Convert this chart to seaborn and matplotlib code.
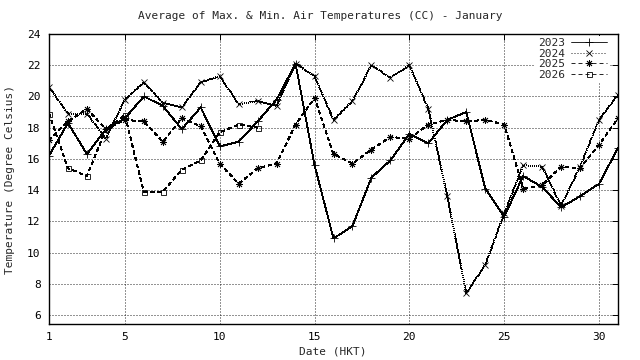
import pandas as pd
import seaborn as sns
import matplotlib.pyplot as plt

# Daily mean of max & min air temperature, January (deg C)
days = [1, 2, 3, 4, 5, 6, 7, 8, 9, 10, 11, 12, 13, 14, 15, 16,
        17, 18, 19, 20, 21, 22, 23, 24, 25, 26, 27, 28, 29, 30, 31]
t2023 = [16.2, 18.3, 16.3, 17.9, 18.6, 20.0, 19.4, 17.9, 19.3, 16.8, 17.1,
         18.4, 19.8, 22.1, 15.6, 10.9, 11.7, 14.8, 15.9, 17.6, 17.0, 18.5,
         19.0, 14.1, 12.3, 14.9, 14.2, 12.9, 13.6, 14.4, 16.7]
t2024 = [20.6, 18.9, 18.9, 17.3, 19.8, 20.9, 19.6, 19.3, 20.9, 21.3, 19.5,
         19.7, 19.4, 22.1, 21.3, 18.5, 19.7, 22.0, 21.2, 22.0, 19.2, 13.6,
         7.4, 9.2, 12.5, 15.6, 15.5, 13.0, 15.5, 18.5, 20.1]
t2025 = [17.2, 18.4, 19.2, 17.9, 18.5, 18.4, 17.1, 18.6, 18.1, 15.7, 14.4,
         15.4, 15.7, 18.2, 19.9, 16.3, 15.7, 16.6, 17.4, 17.3, 18.2, 18.5,
         18.4, 18.5, 18.2, 14.1, 14.3, 15.5, 15.4, 16.9, 18.6]
t2026 = [18.9, 15.4, 14.9, 17.9, 18.8, 13.9, 13.9, 15.3, 15.9, 17.7, 18.2, 18.0]

series = {'2023': t2023, '2024': t2024, '2025': t2025, '2026': t2026}
rows = []
for yr, vals in series.items():
    for d, v in zip(days, vals):
        rows.append({'year': yr, 'day': d, 'temp': v})
df = pd.DataFrame(rows)

xticks = [1, 5, 10, 15, 20, 25, 30]
yticks = [6, 8, 10, 12, 14, 16, 18, 20, 22, 24]

sns.set_style('white')
plt.rcParams['font.family'] = ['DejaVu Sans Mono']
plt.rcParams['font.size'] = 8
plt.rcParams['lines.scale_dashes'] = False

px = 0.72  # one pixel in points at dpi 100
styles = {
    '2023': dict(marker='+', ls='-', ms=5.5),
    '2024': dict(marker='x', ls=(0, (px, 2 * px)), ms=4),
    '2025': dict(marker=(8, 2, 0), ls=(0, (4 * px, 3 * px)), ms=5),
    '2026': dict(marker='s', ls=(0, (4 * px, 3 * px)), ms=3.6),
}

fig = plt.figure(figsize=(6.4, 3.6), dpi=100)
ax = fig.add_axes([49/640, 36/360, 569/640, 290/360])

for yr in series:
    st = styles[yr]
    sns.lineplot(data=df[df.year == yr], x='day', y='temp', ax=ax,
                 color='black', lw=0.6, linestyle=st['ls'],
                 marker=st['marker'], ms=st['ms'], mec='black', mfc='none',
                 mew=0.6, label=yr, antialiased=False)

ax.set_xlim(1, 31)
ax.set_ylim(5.42, 24)
ax.set_xticks(xticks)
ax.set_yticks(yticks)
ax.grid(True, color='black', linestyle=(0, (px, 2 * px)), lw=0.6)
ax.tick_params(direction='in', length=4, width=0.7, top=True, right=True,
               labelsize=8, colors='black', pad=6)
for sp in ax.spines.values():
    sp.set_color('black')
    sp.set_linewidth(1)
ax.set_xlabel('')
ax.set_ylabel('')

leg = ax.legend(loc='upper right', bbox_to_anchor=(1, 1 + 7/290),
                markerfirst=False, frameon=True,
                fancybox=False, edgecolor='none', framealpha=1,
                handlelength=3.2, handletextpad=0.6, labelspacing=0.05,
                borderpad=0.2, borderaxespad=0.8, fontsize=8, numpoints=1)

fig.text(0.5, 1 - 16/360, 'Average of Max. & Min. Air Temperatures (CC) - January',
         ha='center', va='center', fontsize=8)
fig.text(333/640, 1 - 352/360, 'Date (HKT)', ha='center', va='center', fontsize=8)
fig.text(10/640, 1 - 179/360, 'Temperature (Degree Celsius)', ha='center',
         va='center', rotation=90, fontsize=8)

fig.savefig('out.png', dpi=100)
